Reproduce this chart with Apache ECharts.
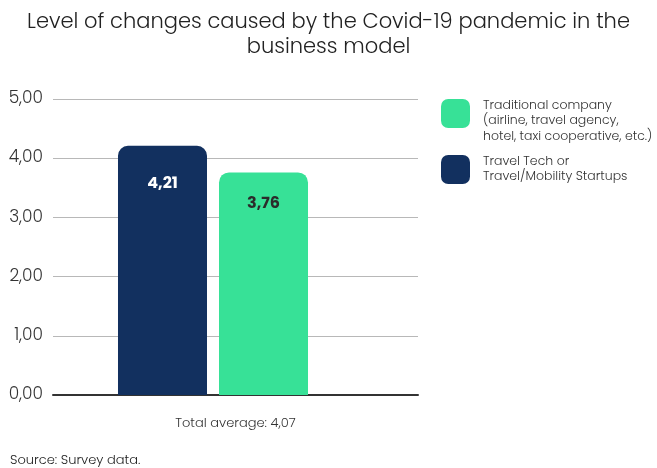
<!DOCTYPE html>
<html>
<head>
<meta charset="utf-8">
<script src="https://cdn.jsdelivr.net/npm/echarts@6/dist/echarts.min.js"></script>
<style>
  html, body { margin: 0; padding: 0; background: #fff; }
  #chart { width: 657px; height: 468px; }
</style>
</head>
<body>
<div id="chart"></div>
<script>
// Survey results: level of business-model change (scale 0–5)
const groupLabel = ['Total average: 4,07'];
const seriesNames = ['Travel Tech or\nTravel/Mobility Startups', 'Traditional company\n(airline, travel agency,\nhotel, taxi cooperative, etc.)'];
const startupValues = [4.21];
const traditionalValues = [3.76];
const yTicks = [0, 1, 2, 3, 4, 5];

const FONT = 'Poppins, Lato, "Noto Sans", sans-serif';
const NAVY = '#12305f';
const GREEN = '#37e197';
const fmt = (v, d) => Number(v).toFixed(d).replace('.', ',');

const chart = echarts.init(document.getElementById('chart'), null, { renderer: 'canvas' });

chart.setOption({
  animation: false,
  textStyle: { fontFamily: FONT },
  title: [{
    text: 'Level of changes caused by the Covid-19 pandemic in the\nbusiness model',
    left: 'center',
    top: 10,
    padding: 0,
    textStyle: { fontFamily: FONT, fontSize: 21, fontWeight: 300, color: '#222', lineHeight: 25 }
  }, {
    text: 'Source: Survey data.',
    left: 10,
    top: 454,
    padding: 0,
    textStyle: { fontFamily: FONT, fontSize: 13, fontWeight: 300, color: '#222' }
  }],
  legend: {
    orient: 'vertical',
    left: 441,
    top: 82.5,
    padding: 0,
    itemWidth: 29,
    itemHeight: 29,
    itemGap: 9.5,
    icon: 'roundRect',
    selectedMode: false,
    // a leading blank line lets a three-line label start level with its swatch
    formatter: name => (name.split('\n').length > 2 ? '\n' + name : name),
    textStyle: { fontFamily: FONT, fontSize: 12.5, fontWeight: 300, color: '#333', lineHeight: 15.5, padding: [0, 0, 0, 8] },
    data: [seriesNames[1], seriesNames[0]]
  },
  grid: [
    // axes, gridlines and group label
    { left: 53, right: 239, top: 99, bottom: 73 },
    // bars
    { left: 53, right: 284, top: 99, bottom: 73 }
  ],
  xAxis: [{
    gridIndex: 0,
    type: 'category',
    data: groupLabel,
    axisLine: { lineStyle: { color: '#333', width: 2 } },
    axisTick: { show: false },
    axisLabel: { margin: 22, fontSize: 13, fontWeight: 300, color: '#333', fontFamily: FONT }
  }, {
    gridIndex: 1,
    type: 'category',
    data: groupLabel,
    show: false
  }],
  yAxis: [{
    gridIndex: 0,
    type: 'value',
    min: yTicks[0],
    max: yTicks[yTicks.length - 1],
    interval: 1,
    axisLine: { show: false },
    axisTick: { show: false },
    splitLine: { lineStyle: { color: '#b8b8b8', width: 1 } },
    axisLabel: { margin: 10, fontSize: 17, fontWeight: 300, color: '#333', fontFamily: FONT, formatter: v => fmt(v, 2) }
  }, {
    gridIndex: 1,
    type: 'value',
    min: yTicks[0],
    max: yTicks[yTicks.length - 1],
    show: false
  }],
  series: [{
    name: seriesNames[0],
    type: 'bar',
    xAxisIndex: 1,
    yAxisIndex: 1,
    data: startupValues,
    barWidth: 89,
    barGap: '13.5%',
    itemStyle: { color: NAVY, borderRadius: [10, 10, 0, 0] },
    label: {
      show: true, position: 'insideTop', distance: 30,
      formatter: p => fmt(p.value, 2),
      color: '#fff', fontSize: 16, fontWeight: 'bold', fontFamily: FONT
    },
    z: 3
  }, {
    name: seriesNames[1],
    type: 'bar',
    xAxisIndex: 1,
    yAxisIndex: 1,
    data: traditionalValues,
    barWidth: 89,
    barGap: '13.5%',
    itemStyle: { color: GREEN, borderRadius: [10, 10, 0, 0] },
    label: {
      show: true, position: 'insideTop', distance: 24,
      formatter: p => fmt(p.value, 2),
      color: '#2b2b2b', fontSize: 16, fontWeight: 'bold', fontFamily: FONT
    },
    z: 3
  }]
});
</script>
</body>
</html>
